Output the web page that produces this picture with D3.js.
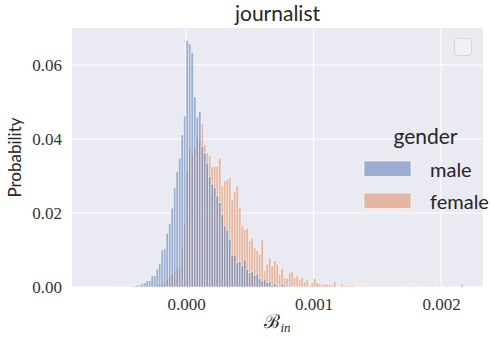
<!DOCTYPE html>
<html>
<head>
<meta charset="utf-8">
<script src="https://cdn.jsdelivr.net/npm/d3@7"></script>
<style>
  html, body { margin: 0; padding: 0; background: #ffffff; }
</style>
</head>
<body>
<div id="chart"></div>
<script>
// histogram bins: index of first bin and bin width (data units)
const firstBin = -31;
const binWidth = 0.0000196;

// probability per bin, starting at firstBin
const maleValues = [
  0.0001, 0, 0.0001, 0, 0.0002, 0, 0.0001, 0.0002, 0.0001, 0.0002,
  0.0003, 0.0005, 0.0005, 0.0010, 0.0012, 0.0017, 0.0017, 0.0030, 0.0030, 0.0048,
  0.0064, 0.0100, 0.0104, 0.0145, 0.0172, 0.0213, 0.0269, 0.0312, 0.0348, 0.0411,
  0.0462, 0.0666, 0.0657, 0.0633, 0.0514, 0.0459, 0.0474, 0.0380, 0.0362, 0.0335,
  0.0298, 0.0278, 0.0269, 0.0246, 0.0228, 0.0195, 0.0165, 0.0154, 0.0129, 0.0086,
  0.0086, 0.0066, 0.0068, 0.0057, 0.0073, 0.0048, 0.0039, 0.0041, 0.0032, 0.0035,
  0.0023, 0.0017, 0.0019, 0.0012, 0.0014, 0.0005, 0.0010, 0.0005, 0.0003, 0.0008,
  0.0005, 0.0003, 0.0003, 0.0002, 0.0002, 0, 0.0002
];

const femaleValues = [
  0, 0, 0, 0, 0, 0, 0, 0, 0, 0,
  0, 0, 0, 0, 0, 0, 0, 0.0002, 0.0001, 0.0005,
  0.0008, 0.0010, 0.0015, 0.0020, 0.0030, 0.0035, 0.0045, 0.0050, 0.0055, 0.0105,
  0.0172, 0.0316, 0.0372, 0.0360, 0.0380, 0.0406, 0.0395, 0.0441, 0.0384, 0.0363,
  0.0354, 0.0325, 0.0327, 0.0325, 0.0348, 0.0273, 0.0287, 0.0291, 0.0296, 0.0237,
  0.0258, 0.0273, 0.0215, 0.0165, 0.0156, 0.0159, 0.0125, 0.0132, 0.0105, 0.0098,
  0.0089, 0.0129, 0.0044, 0.0062, 0.0078, 0.0057, 0.0071, 0.0062, 0.0035, 0.0050,
  0.0025, 0.0023, 0.0039, 0.0041, 0.0026, 0.0030, 0.0019, 0.0026, 0.0014, 0.0021,
  0.0005, 0.0012, 0.0023, 0.0012, 0.0008, 0.0006, 0.0008, 0.0008, 0.0007, 0.0005,
  0.0014, 0, 0.0003, 0.0008, 0.0003, 0.0003, 0.0002, 0.0005, 0.0003, 0,
  0.0002, 0.0003, 0, 0.0002, 0.0003, 0, 0.0002, 0, 0.0003, 0.0002,
  0, 0.0002, 0, 0.0003, 0, 0.0002, 0, 0.0002, 0.0002, 0,
  0.0003, 0, 0.0002, 0, 0, 0.0002, 0, 0.0002, 0, 0.0003,
  0, 0, 0.0002, 0, 0, 0.0002, 0, 0, 0, 0,
  0, 0.0008
];

const xTicks = [0, 0.001, 0.002];
const yTicks = [0, 0.02, 0.04, 0.06];
const groups = ['male', 'female'];
const colors = { male: '#4c72b0', female: '#dd8452' };

const width = 490;
const height = 338;
const margin = { top: 28, right: 7, bottom: 51, left: 72 };

const svg = d3
  .select('#chart')
  .append('svg')
  .attr('width', width)
  .attr('height', height);

const x = d3
  .scaleLinear()
  .domain([-0.000894, 0.002329])
  .range([margin.left, width - margin.right]);

const y = d3
  .scaleLinear()
  .domain([0, 0.07])
  .range([height - margin.bottom, margin.top]);

// background
svg
  .append('rect')
  .attr('x', margin.left)
  .attr('y', margin.top)
  .attr('width', width - margin.left - margin.right)
  .attr('height', height - margin.top - margin.bottom)
  .attr('fill', '#eaeaf2');

// grid
svg
  .append('g')
  .selectAll('line')
  .data(xTicks)
  .enter()
  .append('line')
  .attr('x1', (d) => x(d))
  .attr('x2', (d) => x(d))
  .attr('y1', margin.top)
  .attr('y2', height - margin.bottom)
  .attr('stroke', '#ffffff')
  .attr('stroke-width', 1.1);

svg
  .append('g')
  .selectAll('line')
  .data(yTicks)
  .enter()
  .append('line')
  .attr('x1', margin.left)
  .attr('x2', width - margin.right)
  .attr('y1', (d) => y(d))
  .attr('y2', (d) => y(d))
  .attr('stroke', '#ffffff')
  .attr('stroke-width', 1.1);

// bars: female drawn first, male layered on top (seaborn layer order)
const toBins = (values) =>
  values
    .map((v, i) => ({ x0: (firstBin + i) * binWidth, x1: (firstBin + i + 1) * binWidth, v }))
    .filter((d) => d.v > 0);

const series = { male: maleValues, female: femaleValues };

['female', 'male'].forEach((g) => {
  svg
    .append('g')
    .selectAll('rect')
    .data(toBins(series[g]))
    .enter()
    .append('rect')
    .attr('x', (d) => x(d.x0))
    .attr('y', (d) => y(d.v))
    .attr('width', (d) => x(d.x1) - x(d.x0))
    .attr('height', (d) => y(0) - y(d.v))
    .attr('fill', colors[g])
    .attr('fill-opacity', 0.5)
    .attr('stroke', '#ffffff')
    .attr('stroke-opacity', 0.75)
    .attr('stroke-width', 0.6);
});

// axes
const serif = '"Liberation Serif", "DejaVu Serif", serif';
const sans = 'Lato, "Open Sans", sans-serif';

const xAxis = svg
  .append('g')
  .attr('transform', `translate(0,${height - margin.bottom})`)
  .call(d3.axisBottom(x).tickValues(xTicks).tickSize(0).tickPadding(11).tickFormat(d3.format('.3f')));
xAxis.select('.domain').remove();
xAxis.selectAll('text').attr('font-family', serif).attr('font-size', 17).attr('fill', '#333333');

const yAxis = svg
  .append('g')
  .attr('transform', `translate(${margin.left},0)`)
  .call(d3.axisLeft(y).tickValues(yTicks).tickSize(0).tickPadding(10).tickFormat(d3.format('.2f')));
yAxis.select('.domain').remove();
yAxis.selectAll('text').attr('font-family', serif).attr('font-size', 17).attr('fill', '#333333');

// title and axis labels
svg
  .append('text')
  .attr('x', (margin.left + width - margin.right) / 2)
  .attr('y', 21)
  .attr('text-anchor', 'middle')
  .attr('font-family', sans)
  .attr('font-size', 21)
  .attr('fill', '#262626')
  .text('journalist');

svg
  .append('text')
  .attr('transform', `translate(21,${(margin.top + height - margin.bottom) / 2}) rotate(-90)`)
  .attr('text-anchor', 'middle')
  .attr('font-family', sans)
  .attr('font-size', 17)
  .attr('fill', '#262626')
  .text('Probability');

const xLabel = svg
  .append('text')
  .attr('x', (margin.left + width - margin.right) / 2)
  .attr('y', 328)
  .attr('text-anchor', 'middle')
  .attr('fill', '#262626');
xLabel
  .append('tspan')
  .attr('font-family', '"DejaVu Serif", serif')
  .attr('font-size', 19)
  .text('ℬ');
xLabel
  .append('tspan')
  .attr('font-family', serif)
  .attr('font-style', 'italic')
  .attr('font-size', 13)
  .attr('dy', 4)
  .text('in');

// empty legend frame (top right)
svg
  .append('rect')
  .attr('x', 454.5)
  .attr('y', 38.5)
  .attr('width', 17)
  .attr('height', 17)
  .attr('rx', 3)
  .attr('fill', '#f0f0f5')
  .attr('stroke', '#d3d3da')
  .attr('stroke-width', 1);

// hue legend
const legend = svg.append('g');
legend
  .append('text')
  .attr('x', 425.5)
  .attr('y', 144)
  .attr('text-anchor', 'middle')
  .attr('font-family', sans)
  .attr('font-size', 21)
  .attr('fill', '#262626')
  .text('gender');

groups.forEach((g, i) => {
  legend
    .append('rect')
    .attr('x', 364)
    .attr('y', 161 + i * 32)
    .attr('width', 47)
    .attr('height', 15.5)
    .attr('fill', colors[g])
    .attr('fill-opacity', 0.5)
    .attr('stroke', '#ffffff')
    .attr('stroke-opacity', 0.75)
    .attr('stroke-width', 0.8);
  legend
    .append('text')
    .attr('x', 430)
    .attr('y', 177 + i * 31.5)
    .attr('font-family', sans)
    .attr('font-size', 20)
    .attr('fill', '#262626')
    .text(g);
});
</script>
</body>
</html>
